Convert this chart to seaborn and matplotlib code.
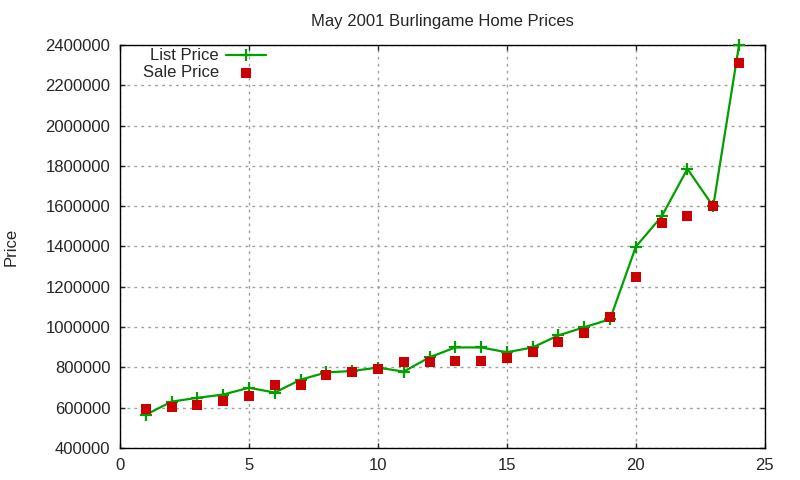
import seaborn as sns
import matplotlib
matplotlib.use("Agg")
import matplotlib.pyplot as plt
import pandas as pd

# Datos
house = list(range(1, 25))
list_price = [565000, 630000, 649000, 665000, 699000, 675000, 739000, 775000, 782000, 799000,
              779000, 850000, 899000, 899000, 875000, 899000, 959000, 999000, 1039000, 1399000,
              1549000, 1785000, 1599000, 2399000]
sale_price = [595000, 603000, 615000, 635000, 660000, 715000, 715000, 760000, 778000, 790000,
              825000, 825000, 830000, 830000, 845000, 875000, 925000, 970000, 1050000, 1250000,
              1515000, 1550000, 1600000, 2310000]

df = pd.DataFrame({"house": house, "list": list_price, "sale": sale_price})

sns.set_style("ticks")
plt.rcParams['font.family'] = ['Liberation Sans', 'DejaVu Sans']

fig = plt.figure(figsize=(8, 4.8), dpi=100)
ax = fig.add_axes([0.15, 0.0667, 0.806, 0.8396])

# linea de precio de lista, venta encima
sns.lineplot(data=df, x="house", y="list", ax=ax, color="#00a000", linewidth=1.6,
             marker="+", markersize=9, markeredgewidth=1.6, markeredgecolor="#00a000",
             label="List Price", clip_on=False, zorder=3)
sns.scatterplot(data=df, x="house", y="sale", ax=ax, color="#cc0000", marker="s", s=55,
                linewidth=0, label="Sale Price", zorder=4)

ax.set_xlim(0, 25)
ax.set_ylim(400000, 2400000)
ax.set_xticks(range(0, 26, 5))
ax.set_yticks(range(400000, 2400001, 200000))
ax.ticklabel_format(axis="y", style="plain", useOffset=False)
ax.tick_params(direction="in", top=True, right=True, length=3.5, width=1, labelsize=12, pad=7)
for sp in ax.spines.values():
    sp.set_linewidth(1)
    sp.set_color("black")
ax.grid(True, color="#a0a0a0", linestyle=(0, (2, 3)), linewidth=1)
ax.set_axisbelow(True)

ax.set_xlabel("")
ax.set_ylabel("Price", fontsize=12, labelpad=19)
ax.set_title("May 2001 Burlingame Home Prices", fontsize=12, pad=14)

ax.legend(loc="upper left", bbox_to_anchor=(0.025, 1.008), frameon=False, markerfirst=False,
          fontsize=12, handlelength=2.4, handletextpad=0.45, borderaxespad=0, labelspacing=0.1)

fig.savefig("out.png", dpi=100)
